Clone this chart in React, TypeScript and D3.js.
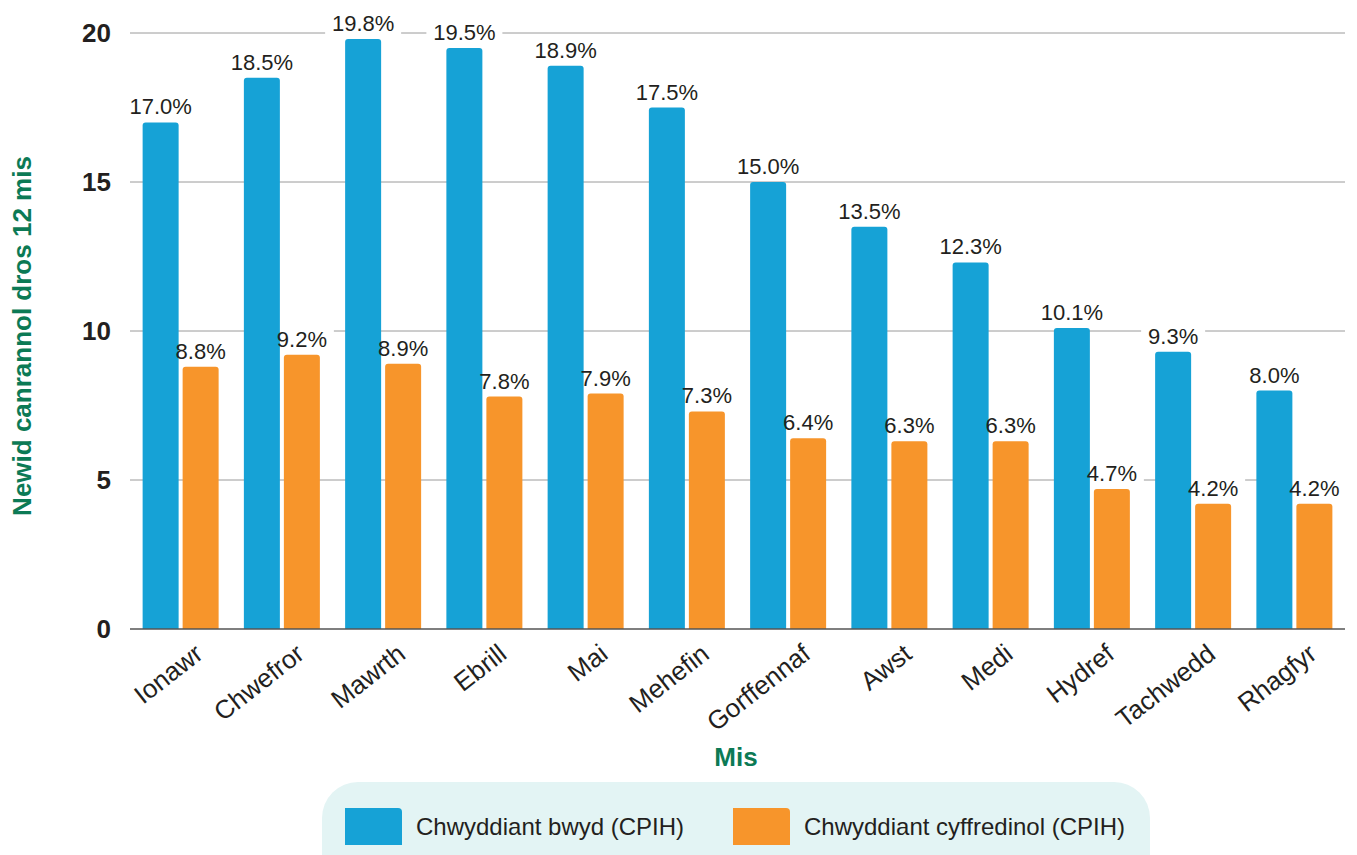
import React, { useEffect, useRef } from 'react';
import * as d3 from 'd3';

const months = ['Ionawr', 'Chwefror', 'Mawrth', 'Ebrill', 'Mai', 'Mehefin', 'Gorffennaf', 'Awst', 'Medi', 'Hydref', 'Tachwedd', 'Rhagfyr'];
const foodInflation = [17.0, 18.5, 19.8, 19.5, 18.9, 17.5, 15.0, 13.5, 12.3, 10.1, 9.3, 8.0];
const generalInflation = [8.8, 9.2, 8.9, 7.8, 7.9, 7.3, 6.4, 6.3, 6.3, 4.7, 4.2, 4.2];
const seriesNames = ['Chwyddiant bwyd (CPIH)', 'Chwyddiant cyffredinol (CPIH)'];
const yTicks = [0, 5, 10, 15, 20];

const colors = ['#16a2d6', '#f7952b'];
const green = '#0c7a55';
const textColor = '#231f20';
const font = '"Liberation Sans", Arial, sans-serif';

const App: React.FC = () => {
  const svgRef = useRef<SVGSVGElement>(null);

  useEffect(() => {
    if (!svgRef.current) return;
    const svg = d3.select(svgRef.current);
    svg.selectAll('*').remove();

    const left = 130, right = 1345, top = 33, bottom = 629;

    const x = d3.scaleBand().domain(months).range([left, right]).paddingInner(0).paddingOuter(0);
    const y = d3.scaleLinear().domain([0, 20]).range([bottom, top]);
    const barW = 36, gap = 4;

    // gridlines
    svg.append('g').selectAll('line')
      .data(yTicks.filter(t => t > 0))
      .enter().append('line')
      .attr('x1', left).attr('x2', right)
      .attr('y1', d => y(d)).attr('y2', d => y(d))
      .attr('stroke', '#9a9a9a').attr('stroke-width', 1);

    // y tick labels
    svg.append('g').selectAll('text')
      .data(yTicks)
      .enter().append('text')
      .attr('x', 111).attr('y', d => y(d) + 9)
      .attr('text-anchor', 'end')
      .style('font-family', font).style('font-size', '26px').style('font-weight', 'bold')
      .style('fill', textColor)
      .text(d => d);

    const data = months.map((m, i) => ({ m, vals: [foodInflation[i], generalInflation[i]] }));
    const groupCenter = (m: string) => (x(m) as number) + x.bandwidth() / 2;
    const barX = (m: string, s: number) => groupCenter(m) - gap / 2 - barW + s * (barW + gap);

    const barPath = (x0: number, y0: number, w: number, h: number, r: number) =>
      `M${x0},${y0 + h}V${y0 + r}Q${x0},${y0} ${x0 + r},${y0}H${x0 + w - r}Q${x0 + w},${y0} ${x0 + w},${y0 + r}V${y0 + h}Z`;

    // white backgrounds behind value labels (break the gridlines only)
    const bgLayer = svg.append('g');
    const barLayer = svg.append('g');
    const textLayer = svg.append('g');

    [0, 1].forEach(s => {
      bgLayer.append('g').selectAll('rect')
        .data(data).enter().append('rect')
        .attr('x', d => barX(d.m, s) + barW / 2 - (d.vals[s] >= 10 ? 38 : 32))
        .attr('y', d => y(d.vals[s]) - 28)
        .attr('width', d => (d.vals[s] >= 10 ? 76 : 64)).attr('height', 26)
        .attr('fill', '#fff');

      barLayer.append('g').selectAll('path')
        .data(data).enter().append('path')
        .attr('d', d => barPath(barX(d.m, s), y(d.vals[s]), barW, bottom - y(d.vals[s]), 3))
        .attr('fill', colors[s]);

      textLayer.append('g').selectAll('text')
        .data(data).enter().append('text')
        .attr('x', d => barX(d.m, s) + barW / 2)
        .attr('y', d => y(d.vals[s]) - 8)
        .attr('text-anchor', 'middle')
        .style('font-family', font).style('font-size', '22px')
        .style('fill', textColor)
        .text(d => `${d.vals[s].toFixed(1)}%`);
    });

    // baseline
    svg.append('line')
      .attr('x1', left).attr('x2', right)
      .attr('y1', bottom).attr('y2', bottom)
      .attr('stroke', '#555').attr('stroke-width', 1.5);

    // x labels
    svg.append('g').selectAll('text')
      .data(months).enter().append('text')
      .attr('transform', m => `translate(${groupCenter(m) + 24},${bottom + 28}) rotate(-38)`)
      .attr('text-anchor', 'end')
      .style('font-family', font).style('font-size', '26px')
      .style('fill', textColor)
      .text(m => m);

    // axis titles
    svg.append('text')
      .attr('transform', `translate(31,${(top + bottom) / 2 + 5}) rotate(-90)`)
      .attr('text-anchor', 'middle')
      .style('font-family', font).style('font-size', '26px').style('font-weight', 'bold')
      .style('fill', green)
      .text('Newid canrannol dros 12 mis');

    svg.append('text')
      .attr('x', 736).attr('y', 766)
      .attr('text-anchor', 'middle')
      .style('font-family', font).style('font-size', '26px').style('font-weight', 'bold')
      .style('fill', green)
      .text('Mis');

    // legend
    const lg = svg.append('g');
    lg.append('rect')
      .attr('x', 322).attr('y', 782).attr('width', 828).attr('height', 110)
      .attr('rx', 36).attr('fill', '#e3f4f4');
    const legendX = [345, 733];
    seriesNames.forEach((name, i) => {
      const lx = legendX[i];
      lg.append('path')
        .attr('d', `M${lx},808H${lx + 53}Q${lx + 57},808 ${lx + 57},812V845H${lx}Z`)
        .attr('fill', colors[i]);
      lg.append('text')
        .attr('x', lx + 71).attr('y', 835)
        .style('font-family', font).style('font-size', '24px')
        .style('fill', textColor)
        .text(name);
    });
  }, []);

  return (
    <svg ref={svgRef} width={1357} height={855} style={{ position: 'absolute', left: 0, top: 0 }} />
  );
};

export default App;
